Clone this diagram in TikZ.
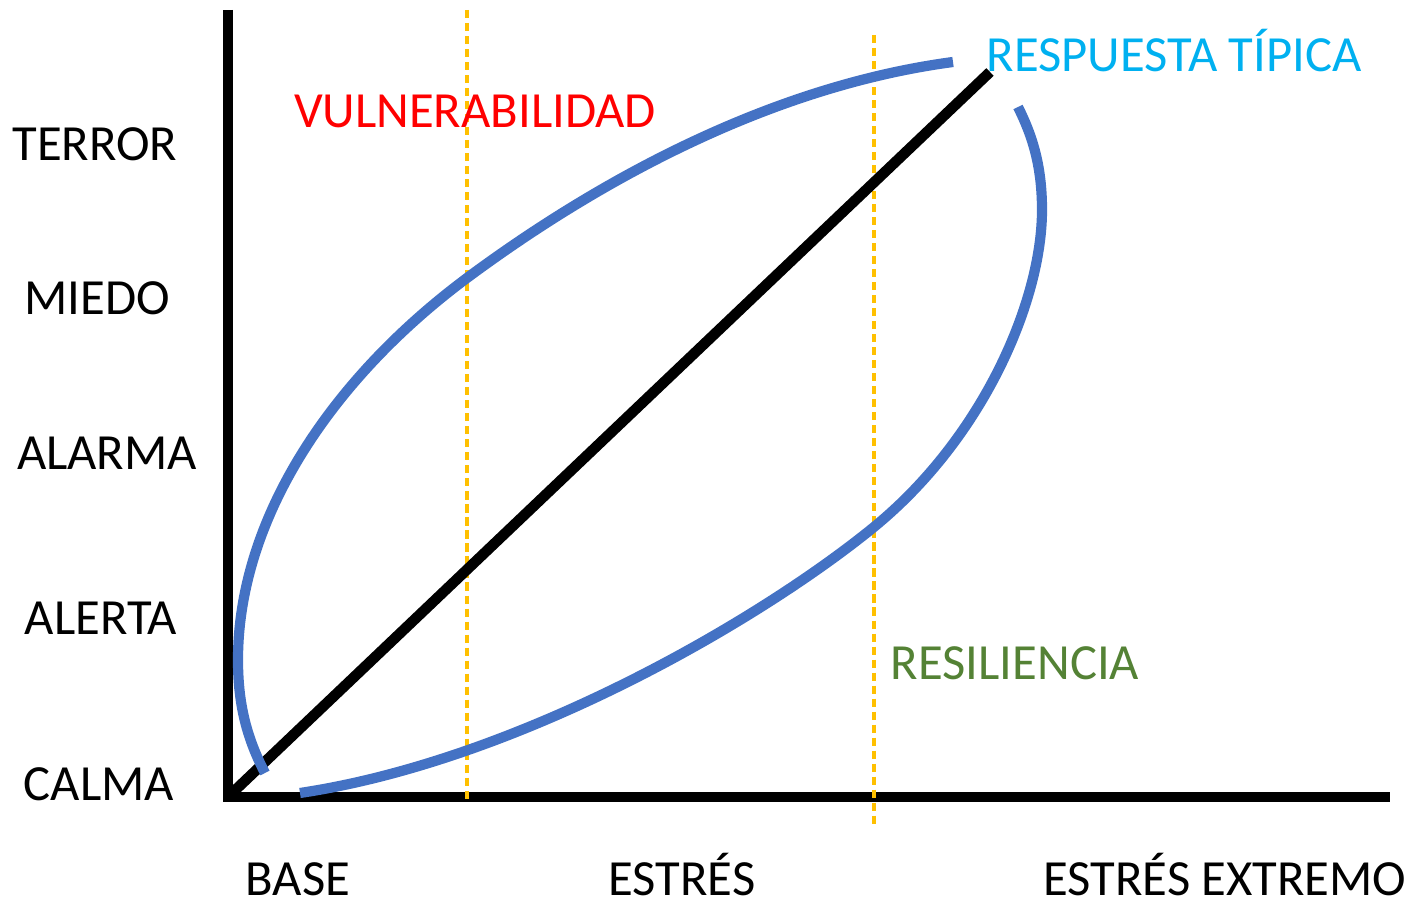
\documentclass[tikz,border=0pt]{standalone}
\usepackage{fontspec}
\setmainfont{Carlito}
\definecolor{curveblue}{RGB}{68,114,196}
\definecolor{guideyellow}{RGB}{255,192,0}
\definecolor{typicalcyan}{RGB}{0,176,240}
\definecolor{resgreen}{RGB}{84,130,53}
\tikzset{
  axis-line/.style={line width=2.9pt, draw=black},
  diag-line/.style={line width=3pt, draw=black},
  loop-line/.style={line width=2.9pt, draw=curveblue},
  guide-line/.style={line width=0.9pt, draw=guideyellow, dash pattern=on 2.3pt off 1.4pt},
  level/.style={anchor=base, inner sep=0pt, font=\fontsize{14.4}{17}\selectfont}
}

\begin{document}
\begin{tikzpicture}[x=0.01cm, y=-0.01cm]
  \useasboundingbox (0,0) rectangle (1414,904);
  % Axes
  \coordinate (origin) at (228,797);
  \coordinate (ytop) at (228,10);
  \coordinate (xend) at (1390,797);
  \draw[axis-line] (ytop) -- (origin) -- (xend);
  % Guides
  \draw[guide-line] (467,10) -- (467,800);
  \draw[guide-line] (874,35) -- (874,825);
  % Typical response
  \coordinate (typtop) at (990,72);
  \draw[diag-line] (origin) -- (typtop);
  % Loop, upper branch
  \draw[loop-line] (265,773) .. controls (245,735) and (238,700) .. (238,660)
    .. controls (238,520) and (330,380) .. (467,278)
    .. controls (610,172) and (780,85) .. (953,62);
  % Loop, lower branch
  \draw[loop-line] (300,793) .. controls (520,760) and (760,620) .. (874,527)
    .. controls (984,437) and (1042,300) .. (1042,210)
    .. controls (1042,165) and (1032,135) .. (1018,107);
  % Levels
  \node[level] (terror) at (95,161) {TERROR};
  \node[level] (miedo) at (97,315) {MIEDO};
  \node[level] (alarma) at (107,470) {ALARMA};
  \node[level] (alerta) at (101,635) {ALERTA};
  \node[level] (calma) at (99,801) {CALMA};
  % Stress
  \node[level] (base) at (298,896) {BASE};
  \node[level] (estres) at (682,896) {ESTRÉS};
  \node[level] (extremo) at (1225,896) {ESTRÉS EXTREMO};
  % Zones
  \node[level, text=red] (vulner) at (475,128) {VULNERABILIDAD};
  \node[level, text=typicalcyan] (tipica) at (1174,72) {RESPUESTA TÍPICA};
  \node[level, text=resgreen] (resil) at (1015,680) {RESILIENCIA};
\end{tikzpicture}
\end{document}
